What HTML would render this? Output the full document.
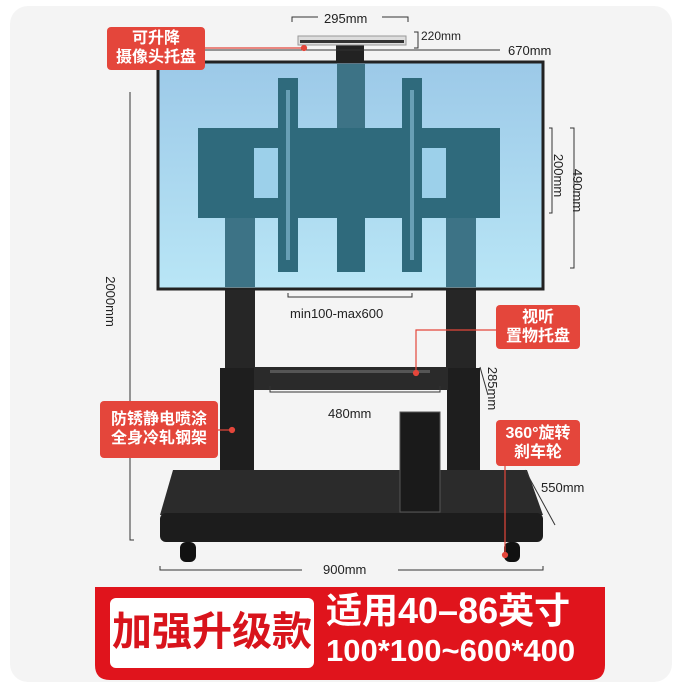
<!DOCTYPE html>
<html><head><meta charset="utf-8"><style>
body{margin:0;background:#fff;}
.w{position:relative;width:682px;height:697px;overflow:hidden;background:#fff;font-family:"Liberation Sans","Noto Sans CJK SC",sans-serif;}
.card{position:absolute;left:10px;top:6px;width:662px;height:676px;background:#f4f4f4;border-radius:18px;}
.lab{position:absolute;background:#e4463b;color:#fff;border-radius:4px;font-size:16px;line-height:19px;text-align:center;font-weight:bold;font-family:"Liberation Sans","Noto Sans CJK SC",sans-serif;white-space:nowrap;}
.t{position:absolute;font-size:13px;color:#222;white-space:nowrap;}
</style></head><body><div class="w">
<div class="card"></div>
<svg width="682" height="697" style="position:absolute;left:0;top:0">
<defs><linearGradient id="g" x1="0" y1="0" x2="0" y2="1"><stop offset="0" stop-color="#9cc9e8"/><stop offset="1" stop-color="#b9e6f6"/></linearGradient></defs>
<rect x="336" y="36" width="28" height="30" fill="#222"/>
<rect x="298" y="36" width="108" height="9" fill="#ddd" stroke="#999"/>
<rect x="300" y="40" width="104" height="3" fill="#333"/>
<rect x="158" y="62" width="385" height="227" fill="url(#g)" stroke="#222" stroke-width="3"/>
<rect x="337" y="64" width="28" height="110" fill="#3d7386"/>
<rect x="198" y="128" width="302" height="90" fill="#2f6a7c"/>
<rect x="254" y="148" width="26" height="50" fill="#9cd0ea"/>
<rect x="420" y="148" width="26" height="50" fill="#9cd0ea"/>
<rect x="278" y="78" width="20" height="194" fill="#2f6a7c"/>
<rect x="402" y="78" width="20" height="194" fill="#2f6a7c"/>
<rect x="286" y="90" width="4" height="170" fill="#8fc3dc" opacity=".6"/>
<rect x="410" y="90" width="4" height="170" fill="#8fc3dc" opacity=".6"/>
<rect x="337" y="218" width="28" height="54" fill="#2f6a7c"/>
<rect x="225" y="218" width="30" height="69" fill="#3d7386"/>
<rect x="446" y="218" width="30" height="69" fill="#3d7386"/>
<rect x="225" y="290" width="30" height="80" fill="#262626"/>
<rect x="446" y="290" width="30" height="80" fill="#262626"/>
<rect x="220" y="368" width="34" height="148" fill="#1e1e1e"/>
<rect x="447" y="368" width="33" height="148" fill="#1e1e1e"/>
<rect x="254" y="367" width="194" height="23" fill="#2a2a2a"/>
<rect x="270" y="370" width="160" height="3" fill="#555"/>
<polygon points="173,470 527,470 543,515 160,515" fill="#2b2b2b"/>
<rect x="160" y="513" width="383" height="29" rx="6" fill="#1c1c1c"/>
<rect x="180" y="542" width="16" height="20" rx="6" fill="#111"/>
<rect x="504" y="542" width="16" height="20" rx="6" fill="#111"/>
<rect x="400" y="412" width="40" height="100" fill="#1a1a1a" stroke="#555"/>
<g stroke="#333" stroke-width="1" fill="none">
<path d="M130 92V540H134"/>
<path d="M205 50H500"/>
<path d="M292 22V17H318M382 17H408V22"/>
<path d="M414 32H418V48H414"/>
<path d="M570 128H574V268H570"/>
<path d="M549 128H552V213H549"/>
<path d="M288 293V297H412V293"/>
<path d="M270 386V392H440V386"/>
<path d="M480 367L488 395"/>
<path d="M525 470L555 525"/>
<path d="M160 566V570H302M398 570H543V566"/>
</g>
<g stroke="#e4463b" stroke-width="1.2" fill="#e4463b">
<path d="M205 48H305" fill="none"/><circle cx="304" cy="48" r="2.5"/>
<path d="M496 330H416V373" fill="none"/><circle cx="416" cy="373" r="2.5"/>
<path d="M218 430H232" fill="none"/><circle cx="232" cy="430" r="2.5"/>
<path d="M505 465V555" fill="none"/><circle cx="505" cy="555" r="2.5"/>
</g>
<path d="M95 587H605V665Q605 680 590 680H110Q95 680 95 665Z" fill="#e0141c"/>
<rect x="110" y="598" width="204" height="70" rx="6" fill="#fff"/>
</svg>
<div class="t" style="left:324px;top:11px;font-size:13px">295mm</div>
<div class="t" style="left:421px;top:29px;font-size:12px">220mm</div>
<div class="t" style="left:508px;top:43px">670mm</div>
<div class="t" style="left:290px;top:306px">min100-max600</div>
<div class="t" style="left:328px;top:406px">480mm</div>
<div class="t" style="left:541px;top:480px">550mm</div>
<div class="t" style="left:323px;top:562px">900mm</div>
<div class="t" style="left:85px;top:294px;transform:rotate(90deg)">2000mm</div>
<div class="t" style="left:556px;top:183px;transform:rotate(90deg)">490mm</div>
<div class="t" style="left:537px;top:168px;transform:rotate(90deg)">200mm</div>
<div class="t" style="left:471px;top:381px;transform:rotate(90deg)">285mm</div>
<div class="lab" style="left:107px;top:27px;width:98px;height:43px;padding-top:2px;box-sizing:border-box">可升降<br>摄像头托盘</div>
<div class="lab" style="left:496px;top:305px;width:84px;height:44px;padding-top:3px;box-sizing:border-box">视听<br>置物托盘</div>
<div class="lab" style="left:100px;top:401px;width:118px;height:57px;padding-top:9px;box-sizing:border-box">防锈静电喷涂<br>全身冷轧钢架</div>
<div class="lab" style="left:496px;top:420px;width:84px;height:46px;padding-top:4px;box-sizing:border-box">360°旋转<br>刹车轮</div>
<div style="position:absolute;left:110px;top:606px;width:204px;text-align:center;color:#d8141c;font-size:40px;font-weight:bold;line-height:52px;white-space:nowrap">加强升级款</div>
<div style="position:absolute;left:326px;top:590px;color:#fff;font-size:36px;font-weight:bold;line-height:42px;white-space:nowrap">适用40–86英寸</div>
<div style="position:absolute;left:326px;top:633px;color:#fff;font-size:31px;font-weight:bold;line-height:36px;white-space:nowrap">100*100~600*400</div>
</div></body></html>
